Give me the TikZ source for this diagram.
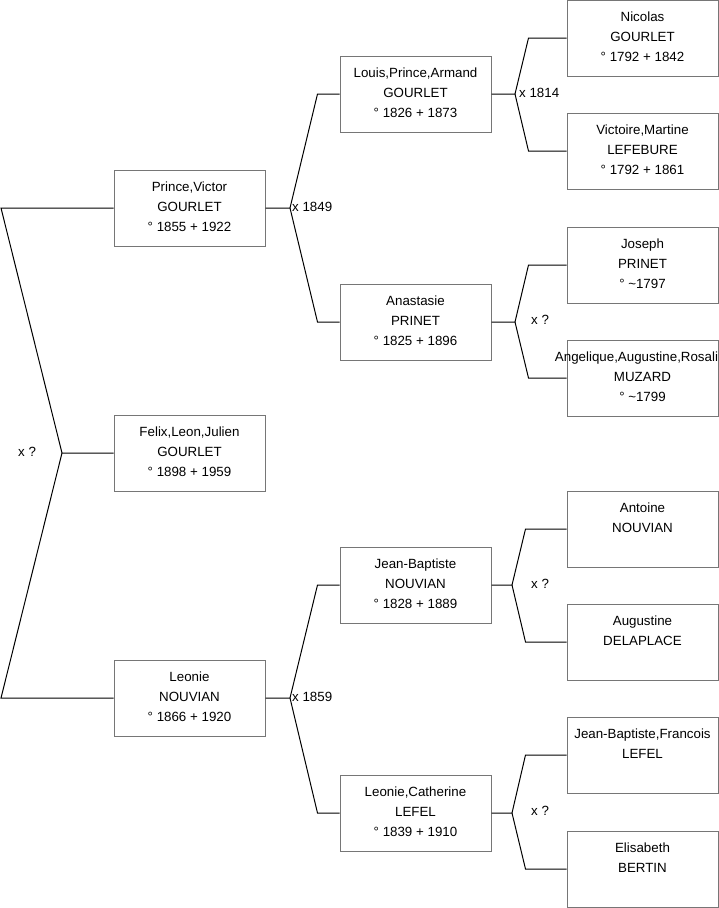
\documentclass[tikz,border=0pt]{standalone}
\usepackage{fontspec}
\setmainfont{Liberation Sans}
\definecolor{boxgray}{HTML}{767676}
\tikzset{
  person/.style={draw=boxgray, line width=1pt, inner sep=0pt, minimum width=151pt, minimum height=76pt},
  conn/.style={draw=black, line width=1pt},
  lbl/.style={inner sep=0pt, font=\fontsize{13.33}{16}\selectfont},
}
\newcommand{\famtext}[1]{\parbox[t][76pt][t]{151pt}{\fontsize{13.33}{20}\selectfont\centering\rule{0pt}{21.5pt}#1}}
\begin{document}
\begin{tikzpicture}[x=1pt,y=-1pt]
\useasboundingbox (0,0) rectangle (719,908);
% generation 1
\node[person] (pv) at (189.5,208) {\famtext{Prince,Victor\\GOURLET\\° 1855 + 1922}};
\node[person] (fl) at (189.5,453) {\famtext{Felix,Leon,Julien\\GOURLET\\° 1898 + 1959}};
\node[person] (ln) at (189.5,698) {\famtext{Leonie\\NOUVIAN\\° 1866 + 1920}};
% generation 2
\node[person] (lpa) at (415.5,94) {\famtext{Louis,Prince,Armand\\GOURLET\\° 1826 + 1873}};
\node[person] (an) at (415.5,322) {\famtext{Anastasie\\PRINET\\° 1825 + 1896}};
\node[person] (jb) at (415.5,585) {\famtext{Jean-Baptiste\\NOUVIAN\\° 1828 + 1889}};
\node[person] (lc) at (415.5,813) {\famtext{Leonie,Catherine\\LEFEL\\° 1839 + 1910}};
% generation 3
\node[person] (ng) at (642.5,38) {\famtext{Nicolas\\GOURLET\\° 1792 + 1842}};
\node[person] (vm) at (642.5,151) {\famtext{Victoire,Martine\\LEFEBURE\\° 1792 + 1861}};
\node[person] (jp) at (642.5,265) {\famtext{Joseph\\PRINET\\° \textasciitilde1797}};
\node[person] (am) at (642.5,378) {\famtext{\makebox[\linewidth][c]{\hspace*{-12pt}Angelique,Augustine,Rosali}\\MUZARD\\° \textasciitilde1799}};
\node[person] (at) at (642.5,529) {\famtext{Antoine\\NOUVIAN}};
\node[person] (ad) at (642.5,642) {\famtext{Augustine\\DELAPLACE}};
\node[person] (jf) at (642.5,755) {\famtext{Jean-Baptiste,Francois\\LEFEL}};
\node[person] (eb) at (642.5,869) {\famtext{Elisabeth\\BERTIN}};
% junctions
\coordinate (k0) at (62,453);
\coordinate (k0a) at (1,208);
\coordinate (k0b) at (1,698);
\coordinate (k1) at (290,208);
\coordinate (k2) at (290,698);
\coordinate (k3) at (515,94);
\coordinate (k4) at (515,322);
\coordinate (k5) at (512,585);
\coordinate (k6) at (512,813);
% connectors
\draw[conn] (pv.west) -- (k0a) -- (k0) -- (fl.west);
\draw[conn] (k0) -- (k0b) -- (ln.west);
\draw[conn] (pv.east) -- (k1) -- ([xshift=-22pt]lpa.west) -- (lpa.west);
\draw[conn] (k1) -- ([xshift=-22pt]an.west) -- (an.west);
\draw[conn] (ln.east) -- (k2) -- ([xshift=-22pt]jb.west) -- (jb.west);
\draw[conn] (k2) -- ([xshift=-22pt]lc.west) -- (lc.west);
\draw[conn] (lpa.east) -- (k3) -- ([xshift=-38pt]ng.west) -- (ng.west);
\draw[conn] (k3) -- ([xshift=-38pt]vm.west) -- (vm.west);
\draw[conn] (an.east) -- (k4) -- ([xshift=-38pt]jp.west) -- (jp.west);
\draw[conn] (k4) -- ([xshift=-38pt]am.west) -- (am.west);
\draw[conn] (jb.east) -- (k5) -- ([xshift=-41pt]at.west) -- (at.west);
\draw[conn] (k5) -- ([xshift=-41pt]ad.west) -- (ad.west);
\draw[conn] (lc.east) -- (k6) -- ([xshift=-41pt]jf.west) -- (jf.west);
\draw[conn] (k6) -- ([xshift=-41pt]eb.west) -- (eb.west);
% marriage labels
\node[lbl, anchor=west] (x0) at (18,451.5) {x ?};
\node[lbl, anchor=west] (x1) at (292,206.5) {x 1849};
\node[lbl, anchor=west] (x2) at (292,696.5) {x 1859};
\node[lbl, anchor=west] (x3) at (519,93) {x 1814};
\node[lbl, anchor=west] (x4) at (531,320) {x ?};
\node[lbl, anchor=west] (x5) at (531,584) {x ?};
\node[lbl, anchor=west] (x6) at (531,811) {x ?};
\end{tikzpicture}
\end{document}
